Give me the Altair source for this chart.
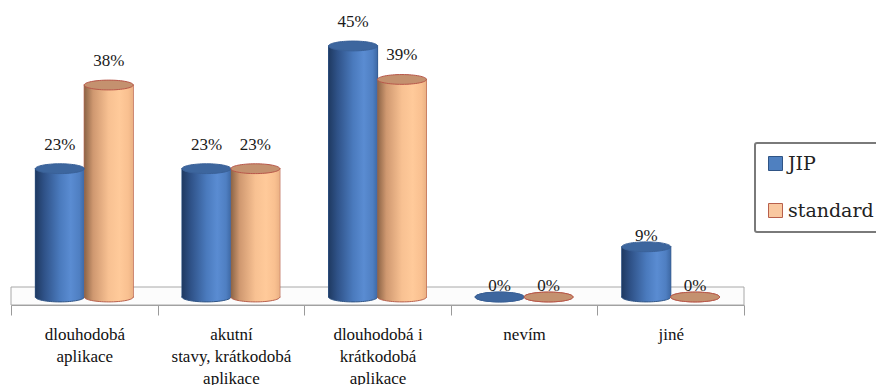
import altair as alt
import pandas as pd

# Survey answers (share of respondents, %) for two ward types
categories = [
    "dlouhodobá\naplikace",
    "akutní\nstavy, krátkodobá\naplikace",
    "dlouhodobá i\nkrátkodobá\naplikace",
    "nevím",
    "jiné",
]
series = ["JIP", "standard"]
jip_values = [23, 23, 45, 0, 9]
standard_values = [38, 23, 39, 0, 0]

rows = []
for cat, a, b in zip(categories, jip_values, standard_values):
    rows.append({"category": cat, "series": series[0], "value": a})
    rows.append({"category": cat, "series": series[1], "value": b})
df = pd.DataFrame(rows)

W, H = 733, 305

# cylinder shading, left to right
blue_grad = {
    "gradient": "linear", "x1": 0, "x2": 1, "y1": 0, "y2": 0,
    "stops": [
        {"offset": 0.0, "color": "#1f3a62"},
        {"offset": 0.18, "color": "#2f5288"},
        {"offset": 0.5, "color": "#4a7abd"},
        {"offset": 0.72, "color": "#5a8cd2"},
        {"offset": 0.9, "color": "#4f7fc2"},
        {"offset": 1.0, "color": "#3e69a5"},
    ],
}
orange_grad = {
    "gradient": "linear", "x1": 0, "x2": 1, "y1": 0, "y2": 0,
    "stops": [
        {"offset": 0.0, "color": "#8c6446"},
        {"offset": 0.18, "color": "#cf9870"},
        {"offset": 0.5, "color": "#f8c192"},
        {"offset": 0.72, "color": "#ffca9a"},
        {"offset": 0.9, "color": "#f9c090"},
        {"offset": 1.0, "color": "#eab184"},
    ],
}

# ellipse outline for cylinder caps (unit box, flattened vertically)
ELLIPSE = ("M-1,0C-1,-0.1105,-0.5523,-0.2,0,-0.2C0.5523,-0.2,1,-0.1105,1,0"
           "C1,0.1105,0.5523,0.2,0,0.2C-0.5523,0.2,-1,0.1105,-1,0Z")
CAP_SIZE = 2400

is_jip = alt.datum.series == "JIP"

x_enc = alt.X(
    "category:N", sort=categories,
    scale=alt.Scale(paddingInner=0, paddingOuter=0),
    axis=alt.Axis(
        title=None, labelExpr="split(datum.label, '\\n')", labelAngle=0,
        labelFont="Liberation Serif", labelFontSize=17, labelColor="#111111",
        labelLineHeight=22, labelPadding=11, labelLimit=0,
        tickBand="extent", tickSize=10, tickColor="#9a9a9a",
        domainColor="#9a9a9a", grid=False,
    ),
)
xo_enc = alt.XOffset("series:N", sort=series,
                     scale=alt.Scale(paddingInner=0, paddingOuter=0.5))
y_scale = alt.Scale(domain=[-1.434, 53.24], nice=False, zero=False)

base = alt.Chart(df).encode(x=x_enc, xOffset=xo_enc)

floor = alt.Chart(pd.DataFrame({"f": [0]})).mark_rect(
    fill="#fcfcfc", stroke="#a8a8a8", strokeWidth=1
).encode(x=alt.value(0), x2=alt.value(W), y=alt.value(287), y2=alt.value(H))

# plain bars carry the legend; shaded bars are drawn on top
legend_bars = base.mark_bar(strokeWidth=1.2).encode(
    y=alt.Y("value:Q", scale=y_scale, axis=None),
    y2=alt.datum(0),
    fill=alt.Fill("series:N", sort=series,
                  scale=alt.Scale(domain=series, range=["#4f80c0", "#f9c8a0"]),
                  legend=alt.Legend(
                      title=None, orient="none", legendX=744, legendY=143,
                      symbolType="square", symbolSize=196,
                      symbolStrokeWidth=1,
                      labelFont="DejaVu Serif", labelFontSize=19,
                      labelColor="#222222", labelOffset=3, rowPadding=27,
                      padding=11, fillColor="white")),
    stroke=alt.Stroke("series:N", sort=series,
                      scale=alt.Scale(domain=series, range=["#2f5485", "#b8604c"]),
                      legend=alt.Legend(title=None, orient="none",
                                        legendX=744, legendY=143)),
)

bottom_caps = base.transform_calculate(zero="0").mark_point(
    shape=ELLIPSE, size=CAP_SIZE, filled=True, opacity=1, strokeWidth=1
).encode(
    y=alt.Y("zero:Q", scale=y_scale),
    fill=alt.condition(is_jip, alt.value(blue_grad), alt.value(orange_grad)),
    stroke=alt.condition(is_jip, alt.value("#2f5485"), alt.value("#b8604c")),
)

shaded_bars = base.mark_bar().encode(
    y=alt.Y("value:Q", scale=y_scale),
    y2=alt.datum(0),
    fill=alt.condition(is_jip, alt.value(blue_grad), alt.value(orange_grad)),
)

top_caps = base.mark_point(
    shape=ELLIPSE, size=CAP_SIZE, filled=True, opacity=1, strokeWidth=1
).encode(
    y=alt.Y("value:Q", scale=y_scale),
    fill=alt.condition(is_jip, alt.value("#3d669e"), alt.value("#c4916f")),
    stroke=alt.condition(is_jip, alt.value("#3a6198"), alt.value("#b8574a")),
)

label_style = dict(font="serif", fontSize=17, color="#1a1a1a",
                   baseline="middle", align="center")
labels_tall = base.transform_filter(alt.datum.value >= 10).transform_calculate(
    label="datum.value + '%'"
).mark_text(dy=-24, **label_style).encode(
    y=alt.Y("value:Q", scale=y_scale), text="label:N")
labels_short = base.transform_filter(alt.datum.value < 10).transform_calculate(
    label="datum.value + '%'"
).mark_text(dy=-11, **label_style).encode(
    y=alt.Y("value:Q", scale=y_scale), text="label:N")

chart = alt.layer(
    floor, legend_bars, bottom_caps, shaded_bars, top_caps, labels_tall, labels_short
).properties(
    width=W, height=H,
    autosize=alt.AutoSizeParams(type="none"),
    padding={"left": 11, "top": 0, "right": 876 - 11 - W, "bottom": 385 - H},
).configure_view(stroke=None).configure_legend(
    strokeColor="#7a7a7a", strokeWidth=2, cornerRadius=2
)

chart.save("out.html", embed_options={"renderer": "svg", "actions": False})
